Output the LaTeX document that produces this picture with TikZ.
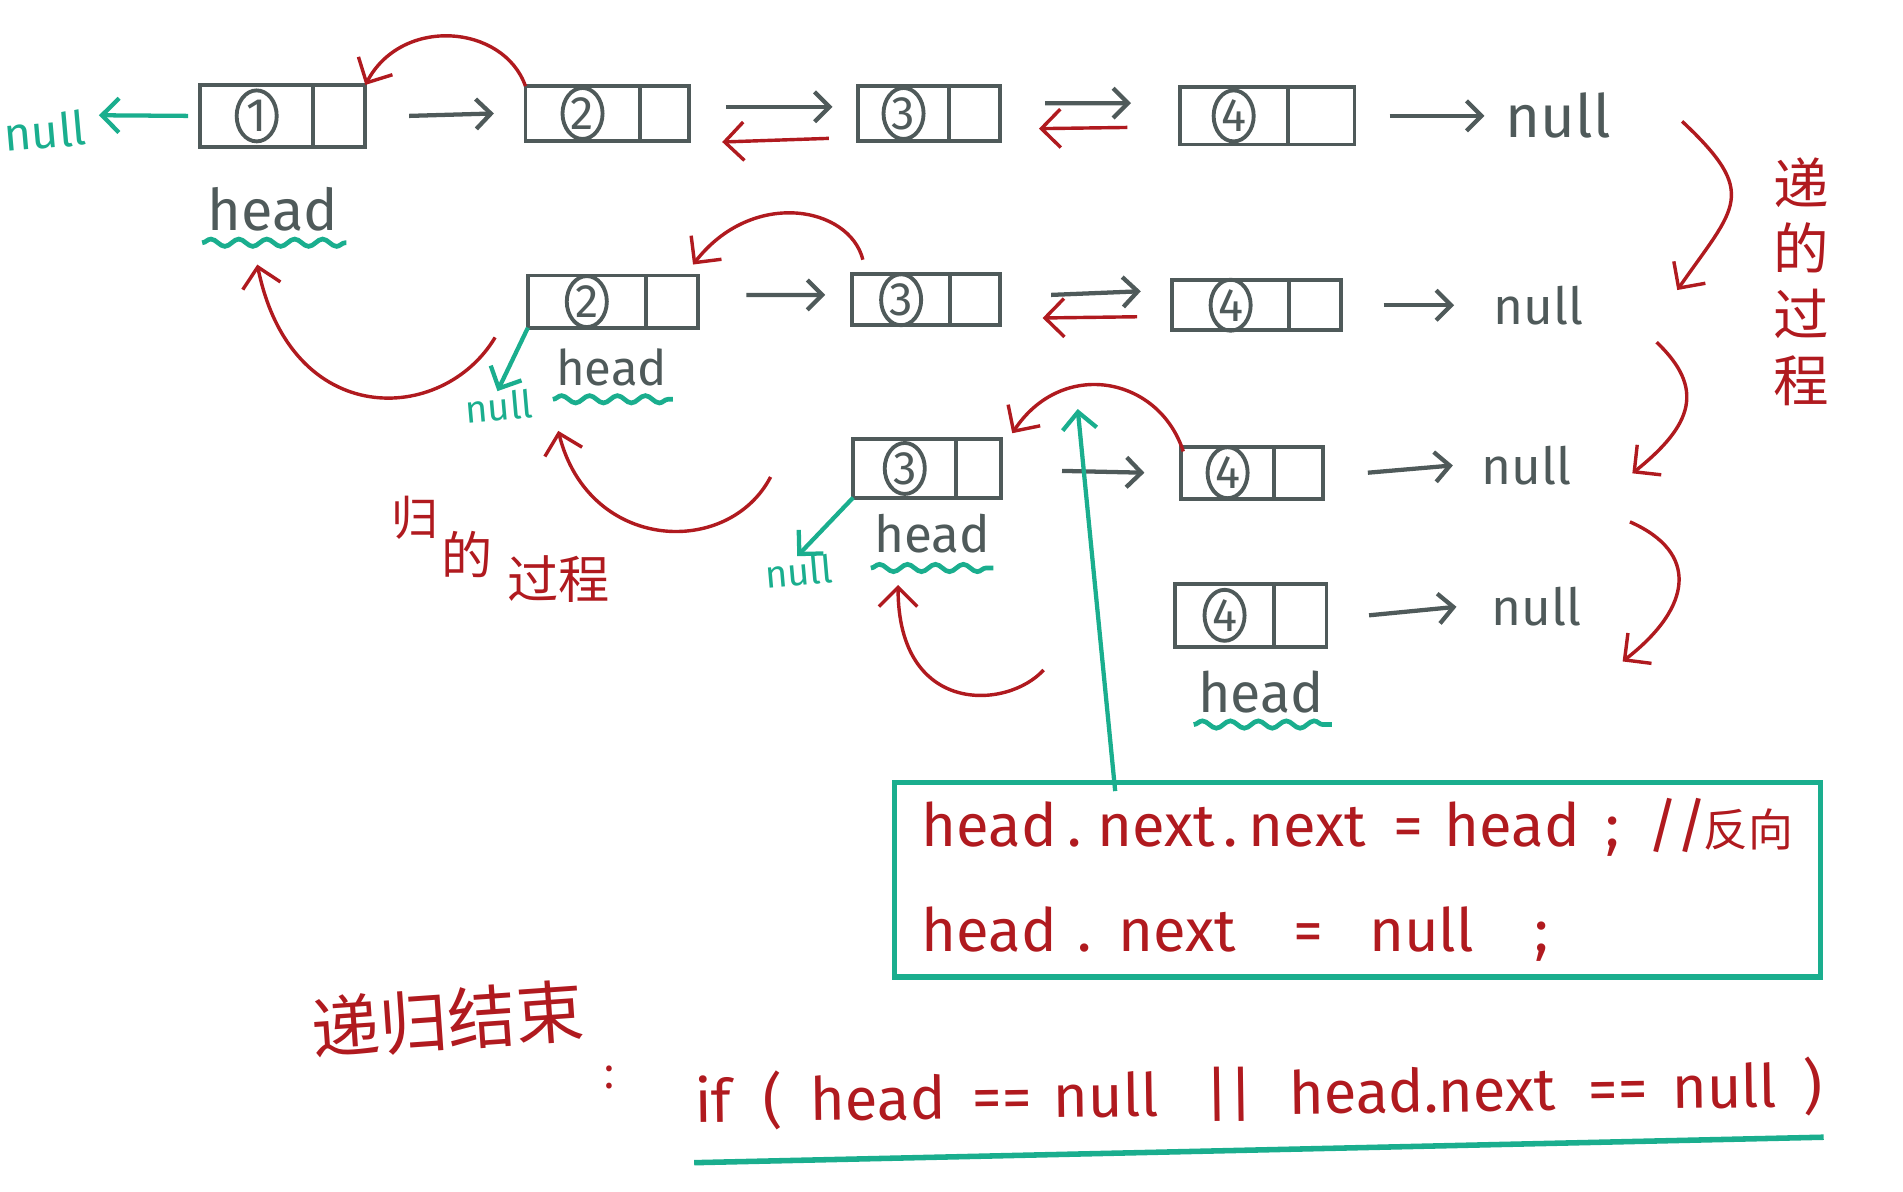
\documentclass[tikz,border=0pt]{standalone}
\usepackage{fontspec}
\setmainfont{Fira Sans}
\newfontfamily\cjk{Noto Sans CJK SC}
\usetikzlibrary{arrows.meta, positioning, shapes.geometric, decorations.pathmorphing}
\definecolor{ink}{HTML}{4F5A5A}
\definecolor{pen}{HTML}{B01A1F}
\definecolor{mint}{HTML}{1AAE8E}

\begin{document}
\begin{tikzpicture}[
  x=0.01cm, y=-0.01cm,
  cell/.style={rectangle, draw=ink, line width=0.9pt, inner sep=0, outer sep=0},
  num/.style={ellipse, draw=ink, line width=0.9pt, minimum width=0.33cm, minimum height=0.42cm, inner sep=0, text=ink, font=\fontsize{11}{11}\selectfont},
  hd/.style={text=ink, inner sep=0, anchor=base, font=\fontsize{#1}{#1}\selectfont},
  nul/.style={text=ink, inner sep=0, font=\fontsize{#1}{#1}\selectfont},
  tnul/.style={text=mint, inner sep=0, rotate=5, font=\fontsize{#1}{#1}\selectfont},
  zh/.style={text=pen, inner sep=0, font=\cjk\fontsize{#1}{#1}\selectfont},
  wave/.style={mint, line width=1.1pt, decorate, decoration={snake, amplitude=0.03cm, segment length=0.23cm}},
  garr/.style={ink, line width=1pt, -{Straight Barb[length=3.5pt, width=7pt]}},
  rarr/.style={pen, line width=0.8pt, -{Straight Barb[length=4.5pt, width=9pt]}},
  tarr/.style={mint, line width=1pt, -{Straight Barb[length=4pt, width=8pt]}},
  codebox/.style={draw=mint, line width=1.2pt, text=pen, align=left, font=\fontsize{14}{24.5}\selectfont}
  ]
  \useasboundingbox (0,0) rectangle (1568,982);

  \node[cell, minimum width=0.93cm, minimum height=0.51cm] (a1) at (211.5,95.5) {};
  \node[cell, minimum width=0.43cm, minimum height=0.51cm, right=0pt of a1] (a1n) {};
  \node[num] (a1c) at (a1) {1};
  \node[cell, minimum width=0.94cm, minimum height=0.45cm] (a2) at (480,93.5) {};
  \node[cell, minimum width=0.41cm, minimum height=0.45cm, right=0pt of a2] (a2n) {};
  \node[num] (a2c) at (a2) {2};
  \node[cell, minimum width=0.75cm, minimum height=0.45cm] (a3) at (744.5,93.5) {};
  \node[cell, minimum width=0.42cm, minimum height=0.45cm, right=0pt of a3] (a3n) {};
  \node[num] (a3c) at (a3) {3};
  \node[cell, minimum width=0.89cm, minimum height=0.47cm] (a4) at (1016.5,95.5) {};
  \node[cell, minimum width=0.55cm, minimum height=0.47cm, right=0pt of a4] (a4n) {};
  \node[num] (a4c) at (a4) {4};

  \node[cell, minimum width=0.97cm, minimum height=0.43cm] (b2) at (483.5,248.5) {};
  \node[cell, minimum width=0.43cm, minimum height=0.43cm, right=0pt of b2] (b2n) {};
  \node[num] (b2c) at (b2) {2};
  \node[cell, minimum width=0.81cm, minimum height=0.42cm] (b3) at (742.5,247) {};
  \node[cell, minimum width=0.41cm, minimum height=0.42cm, right=0pt of b3] (b3n) {};
  \node[num] (b3c) at (b3) {3};
  \node[cell, minimum width=0.96cm, minimum height=0.41cm] (b4) at (1014,251.5) {};
  \node[cell, minimum width=0.43cm, minimum height=0.41cm, right=0pt of b4] (b4n) {};
  \node[num] (b4c) at (b4) {4};

  \node[cell, minimum width=0.85cm, minimum height=0.48cm] (c3) at (745.5,386) {};
  \node[cell, minimum width=0.37cm, minimum height=0.48cm, right=0pt of c3] (c3n) {};
  \node[num] (c3c) at (c3) {3};
  \node[cell, minimum width=0.77cm, minimum height=0.43cm] (c4) at (1011.5,389.5) {};
  \node[cell, minimum width=0.40cm, minimum height=0.43cm, right=0pt of c4] (c4n) {};
  \node[num] (c4c) at (c4) {4};

  \node[cell, minimum width=0.82cm, minimum height=0.52cm] (d4) at (1009,507) {};
  \node[cell, minimum width=0.43cm, minimum height=0.52cm, right=0pt of d4] (d4n) {};
  \node[num] (d4c) at (d4) {4};

  \node[hd=13.5] (h1) at (225,190) {head};
  \node[hd=11.5] (h2) at (504,318) {head};
  \node[hd=12] (h3) at (768,455) {head};
  \node[hd=13] (h4) at (1039,587) {head};
  \draw[wave] ([xshift=-0.04cm,yshift=-0.10cm]h1.base west) -- ([xshift=0.06cm,yshift=-0.10cm]h1.base east);
  \draw[wave] ([xshift=-0.02cm,yshift=-0.11cm]h2.base west) -- ([xshift=0.04cm,yshift=-0.11cm]h2.base east);
  \draw[wave] ([xshift=-0.02cm,yshift=-0.13cm]h3.base west) -- ([xshift=0.02cm,yshift=-0.13cm]h3.base east);
  \draw[wave] ([xshift=-0.03cm,yshift=-0.10cm]h4.base west) -- ([xshift=0.06cm,yshift=-0.10cm]h4.base east);

  \node[nul=14, right=1.24cm of a4n] (n1) {null};
  \node[nul=12, right=1.25cm of b4n] (n2) {null};
  \node[nul=12, right=1.30cm of c4n, yshift=0.06cm] (n3) {null};
  \node[nul=12, right=1.35cm of d4n, yshift=0.07cm] (n4) {null};
  \node[tnul=11] (t1) at (37,108) {null};
  \node[tnul=9] (t2) at (411,335) {null};
  \node[tnul=9] (t3) at (658,471) {null};

  \node[text=pen, inner sep=0, align=center, font=\cjk\fontsize{13}{15.4}\selectfont] (dg) at (1484,232) {递\\的\\过\\程};
  \node[zh=11] (g1) at (342,427) {归};
  \node[zh=12] (g2) at (385,457) {的};
  \node[zh=12] (g3) at (460,477) {过程};
  \node[zh=16, rotate=4] (fin) at (369,840) {递归结束};
  \node[zh=10] (colon) at (502,888) {:};

  \node[codebox, minimum width=7.63cm, minimum height=1.60cm] (code) at (1118.5,725) {head\hspace{2.5pt}.\hspace{3.5pt}next\hspace{2pt}.\hspace{2.5pt}next\hspace{6.5pt}=\hspace{5pt}head\hspace{6pt};\hspace{6.5pt}/\hspace{-0.5pt}/\hspace{-1pt}{\cjk\fontsize{10.5}{24.5}\selectfont 反向}\\head\hspace{4.8pt}.\hspace{6.3pt}next\hspace{13.3pt}=\hspace{10.8pt}null\hspace{14.3pt};};
  \node[text=pen, inner sep=0, anchor=base west, rotate=0.8, font=\fontsize{14}{14}\selectfont] (cond) at (572,925) {if\hspace{7.3pt}(\hspace{6.6pt}head\hspace{6.2pt}==\hspace{5.1pt}null\hspace{11.1pt}||\hspace{8.2pt}head.next\hspace{7.7pt}==\hspace{5.5pt}null\hspace{6.2pt})};
  \draw[mint, line width=1.3pt] ([yshift=-0.33cm]cond.base west) -- ([yshift=-0.25cm]cond.base east);

  \draw[tarr] ([xshift=-0.10cm]a1.west) -- ([xshift=0.10cm,yshift=0.10cm]t1.east);
  \draw[garr] ([xshift=0.36cm]a1n.east) -- ([xshift=-0.26cm]a2.west);
  \draw[rarr] (a2.north west) .. controls +(-18,-51) and +(30,-57) .. (a1n.north east);
  \draw[garr] ([xshift=0.30cm,yshift=0.055cm]a2n.east) -- ([xshift=-0.21cm,yshift=0.055cm]a3.west);
  \draw[rarr] ([xshift=-0.24cm,yshift=-0.205cm]a3.west) -- ([xshift=0.27cm,yshift=-0.235cm]a2n.east);
  \draw[garr] ([xshift=0.37cm,yshift=0.085cm]a3n.east) -- ([xshift=-0.40cm,yshift=0.105cm]a4.west);
  \draw[rarr] ([xshift=-0.43cm,yshift=-0.095cm]a4.west) -- ([xshift=0.32cm,yshift=-0.125cm]a3n.east);
  \draw[garr] ([xshift=0.29cm]a4n.east) -- ([xshift=-0.17cm]n1.west);

  \draw[garr] ([xshift=0.40cm,yshift=0.055cm]b2n.east) -- ([xshift=-0.22cm,yshift=0.04cm]b3.west);
  \draw[rarr] ([xshift=0.09cm,yshift=0.12cm]b3.north west) .. controls +(-11,-44) and +(49,-63) .. ([xshift=-0.04cm,yshift=0.09cm]b2n.north east);
  \draw[garr] ([xshift=0.42cm,yshift=0.04cm]b3n.east) -- ([xshift=-0.26cm,yshift=0.115cm]b4.west);
  \draw[rarr] ([xshift=-0.29cm,yshift=-0.095cm]b4.west) -- ([xshift=0.35cm,yshift=-0.15cm]b3n.east);
  \draw[garr] ([xshift=0.35cm]b4n.east) -- ([xshift=-0.32cm]n2.west);
  \draw[tarr] (b2.south west) -- (t2.north);
  \draw[rarr] ([xshift=-0.27cm,yshift=-0.08cm]b2.south west) .. controls +(-43,72) and +(28,137) .. ([xshift=-0.13cm,yshift=-0.28cm]h1.base);

  \draw[garr] ([xshift=0.50cm,yshift=-0.02cm]c3n.east) -- ([xshift=-0.30cm]c4.west);
  \draw[rarr] ([xshift=0.02cm,yshift=-0.04cm]c4.north west) .. controls +(-20,-62) and +(41,-62) .. ([xshift=0.09cm,yshift=0.05cm]c3n.north east);
  \draw[garr] ([xshift=0.37cm]c4n.east) -- ([xshift=-0.23cm]n3.west);
  \draw[tarr] (c3.south west) -- (t3.north);
  \draw[rarr] ([xshift=-0.68cm,yshift=-0.07cm]c3.west) .. controls +(-35,67) and +(25,100) .. ([xshift=-0.44cm,yshift=-0.37cm]h2.base);

  \draw[garr] ([xshift=0.35cm]d4n.east) -- ([xshift=-0.28cm]n4.west);
  \draw[rarr] ([xshift=-1.08cm,yshift=-0.19cm]d4.south west) .. controls +(-30,33) and +(0,108) .. ([xshift=-0.28cm,yshift=-0.27cm]h3.base);

  \coordinate (tip) at (888,337);
  \draw[tarr] ([xshift=-1.995cm,yshift=-0.09cm]code.north) -- (tip);

  \coordinate (r1) at (1386,100);
  \coordinate (r2) at (1382,239);
  \coordinate (r3) at (1365,282);
  \coordinate (r4) at (1345,390);
  \coordinate (r5) at (1343,430);
  \coordinate (r6) at (1337,545);
  \draw[rarr] (r1) .. controls +(64,60) and +(48,-69) .. (r2);
  \draw[rarr] (r3) .. controls +(40,38) and +(50,-40) .. (r4);
  \draw[rarr] (r5) .. controls +(57,25) and +(58,-45) .. (r6);
\end{tikzpicture}
\end{document}
